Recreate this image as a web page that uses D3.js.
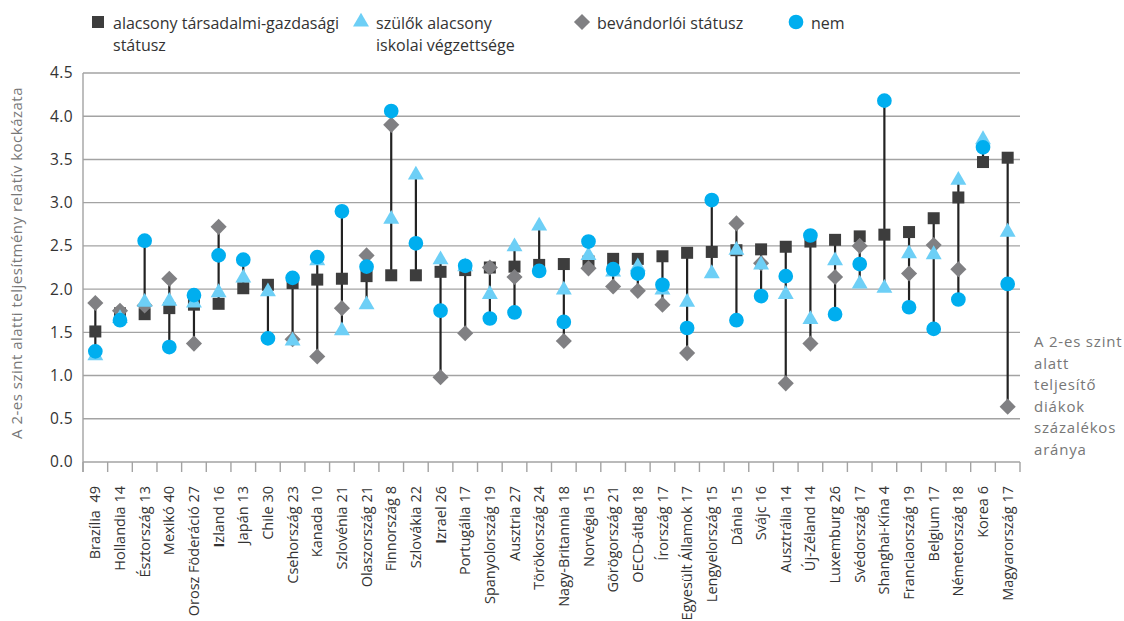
<!DOCTYPE html>
<html><head><meta charset="utf-8">
<script src="https://cdn.jsdelivr.net/npm/d3@7"></script>
<style>
body{margin:0;background:#fff;}
text{font-family:"Open Sans","Noto Sans",sans-serif;}
</style></head>
<body>
<svg id="c" width="1124" height="621"></svg>
<script>
const categories = ["Brazília  49","Hollandia 14","Észtország 13","Mexikó 40","Orosz Föderáció 27","Izland 16","Japán 13","Chile 30","Csehország 23","Kanada 10","Szlovénia 21","Olaszország 21","Finnország 8","Szlovákia 22","Izrael 26","Portugália 17","Spanyolország 19","Ausztria 27","Törökország 24","Nagy-Britannia 18","Norvégia 15","Görögország 21","OECD-átlag 18","Írország 17","Egyesült Államok 17","Lengyelország 15","Dánia 15","Svájc 16","Ausztrália 14","Új-Zéland 14","Luxemburg 26","Svédország 17","Shanghai-Kína 4","Franciaország 19","Belgium 17","Németország 18","Korea 6","Magyarország 17"];
const sesValues =    [1.51,1.72,1.71,1.78,1.82,1.83,2.01,2.05,2.07,2.11,2.12,2.15,2.16,2.16,2.20,2.22,2.25,2.26,2.28,2.29,2.32,2.35,2.35,2.38,2.42,2.43,2.45,2.46,2.49,2.55,2.57,2.61,2.63,2.66,2.82,3.06,3.47,3.52];
const parentEduValues = [1.23,1.66,1.85,1.86,1.84,1.96,2.13,1.97,1.40,2.33,1.52,1.82,2.81,3.32,2.34,2.26,1.94,2.49,2.73,1.99,2.39,2.20,2.26,1.99,1.85,2.18,2.45,2.28,1.94,1.65,2.33,2.06,2.01,2.41,2.40,3.26,3.73,2.66];
const immigrantValues = [1.84,1.75,1.81,2.12,1.37,2.72,null,null,1.42,1.22,1.78,2.39,3.90,null,0.98,1.49,2.25,2.14,null,1.40,2.24,2.03,1.98,1.82,1.26,null,2.76,2.30,0.91,1.37,2.14,2.50,null,2.18,2.51,2.23,null,0.64];
const genderValues = [1.28,1.64,2.56,1.33,1.93,2.39,2.34,1.43,2.13,2.37,2.90,2.26,4.06,2.53,1.75,2.27,1.66,1.73,2.21,1.62,2.55,2.23,2.18,2.05,1.55,3.03,1.64,1.92,2.15,2.62,1.71,2.29,4.18,1.79,1.54,1.88,3.64,2.06];
const yTicks = [0,0.5,1,1.5,2,2.5,3,3.5,4,4.5];
const legendLabels = [["alacsony társadalmi-gazdasági","státusz"],["szülők alacsony","iskolai végzettsége"],["bevándorlói státusz"],["nem"]];
const yTitle = "A 2-es szint alatti teljesítmény relatív kockázata";
const sideNote = ["A 2-es szint","alatt","teljesítő","diákok","százalékos","aránya"];

const svg = d3.select("#c");
const L=83, R=1020, T=73, B=462;
const x = d3.scaleBand().domain(categories).range([L,R]);
const y = d3.scaleLinear().domain([0,4.5]).range([B,T]);
const cSq="#3d3d3d", cTri="#6dcff6", cDia="#808083", cCir="#00aeef";

// grid
svg.append("g").selectAll("line").data(yTicks.filter(d=>d>0)).join("line")
  .attr("x1",L).attr("x2",R).attr("y1",d=>y(d)).attr("y2",d=>y(d))
  .attr("stroke","#a3a3a3").attr("stroke-width",1.4);
// axes
svg.append("line").attr("x1",L).attr("x2",R).attr("y1",B).attr("y2",B).attr("stroke","#a3a3a3").attr("stroke-width",1.4);
svg.append("line").attr("x1",L).attr("x2",L).attr("y1",T).attr("y2",B+10).attr("stroke","#a3a3a3").attr("stroke-width",1.4);
const bounds = categories.map(c=>x(c)).concat([R]);
svg.append("g").selectAll("line").data(bounds).join("line")
  .attr("x1",d=>d).attr("x2",d=>d).attr("y1",B).attr("y2",B+10)
  .attr("stroke","#a3a3a3").attr("stroke-width",1.4);
// y labels
svg.append("g").selectAll("text").data(yTicks).join("text")
  .attr("x",73).attr("y",d=>y(d)).attr("dy","0.35em").attr("text-anchor","end")
  .attr("font-size",15.5).attr("letter-spacing",0.4).attr("fill","#333").text(d=>d.toFixed(1));
svg.append("text").attr("transform","translate(22,263) rotate(-90)").attr("text-anchor","middle")
  .attr("font-size",15).attr("letter-spacing",0.5).attr("fill","#777").text(yTitle);
// x labels
const xl = svg.append("g").selectAll("text").data(categories).join("text")
  .attr("transform",d=>`translate(${x(d)+x.bandwidth()/2},486) rotate(-90)`)
  .attr("dy","0.35em").attr("text-anchor","end").attr("font-size",14.5).attr("fill","#333")
  .attr("xml:space","preserve");
xl.each(function(d){
  const t=d3.select(this);
  if(d.startsWith("Iz")){ t.append("tspan").attr("font-weight","bold").text("I"); t.append("tspan").text(d.slice(1)); }
  else t.text(d);
});
// range lines
const rows = categories.map((c,i)=>{
  const vals=[sesValues[i],parentEduValues[i],immigrantValues[i],genderValues[i]].filter(v=>v!=null);
  return {c,min:d3.min(vals),max:d3.max(vals)};
});
svg.append("g").selectAll("line").data(rows).join("line")
  .attr("x1",d=>x(d.c)+x.bandwidth()/2).attr("x2",d=>x(d.c)+x.bandwidth()/2)
  .attr("y1",d=>y(d.min)).attr("y2",d=>y(d.max)).attr("stroke","#222").attr("stroke-width",2.2);

const cx = c=>x(c)+x.bandwidth()/2;
function drawSeries(vals, sym, size, color, rot){
  svg.append("g").selectAll("path").data(categories.map((c,i)=>({c,v:vals[i]})).filter(d=>d.v!=null)).join("path")
    .attr("d",d3.symbol().type(sym).size(size))
    .attr("transform",d=>`translate(${cx(d.c)},${y(d.v)})${rot?" rotate(45)":""}`)
    .attr("fill",color);
}
drawSeries(sesValues,d3.symbolSquare,144,cSq,false);
drawSeries(immigrantValues,d3.symbolSquare,130,cDia,true);
drawSeries(parentEduValues,d3.symbolTriangle,110,cTri,false);
drawSeries(genderValues,d3.symbolCircle,170,cCir,false);

// legend
const lg=[{x:98,sym:d3.symbolSquare,size:144,color:cSq,rot:false},
          {x:361,sym:d3.symbolTriangle,size:110,color:cTri,rot:false},
          {x:582,sym:d3.symbolSquare,size:130,color:cDia,rot:true},
          {x:796,sym:d3.symbolCircle,size:170,color:cCir,rot:false}];
lg.forEach((g,i)=>{
  svg.append("path").attr("d",d3.symbol().type(g.sym).size(g.size))
    .attr("transform",`translate(${g.x},22)${g.rot?" rotate(45)":""}`).attr("fill",g.color);
  const t=svg.append("text").attr("x",g.x+15).attr("y",29).attr("font-size",16).attr("fill","#333");
  legendLabels[i].forEach((s,j)=>t.append("tspan").attr("x",g.x+15).attr("dy",j?22:0).text(s));
});
// side note
const sn=svg.append("text").attr("x",1034).attr("y",347).attr("font-size",15).attr("letter-spacing",0.8).attr("fill","#777");
sideNote.forEach((s,j)=>sn.append("tspan").attr("x",1034).attr("dy",j?21.5:0).text(s));
</script>
</body></html>
